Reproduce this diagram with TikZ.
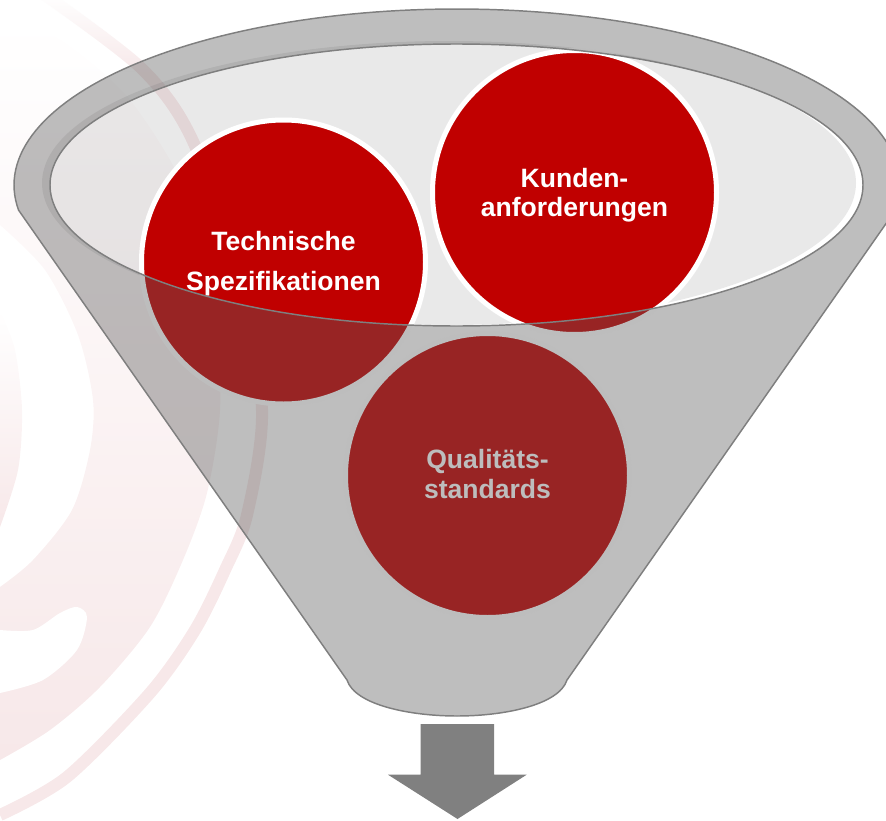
\documentclass[tikz,border=0pt]{standalone}
\usepackage{fontspec}
\usetikzlibrary{fadings}
\setmainfont{Liberation Sans}
\definecolor{wm}{HTML}{F7E8E9}
\definecolor{circred}{HTML}{C00000}
\definecolor{veil}{HTML}{5C5C5C}
\definecolor{rimline}{HTML}{7F7F7F}
\definecolor{arrowgray}{HTML}{808080}
% two centred lines whose baselines lie at given distances above the node centre
\newcommand{\twolines}[4]{\makebox[0pt]{\raisebox{#1pt}[0pt][0pt]{#2}}\makebox[0pt]{\raisebox{#3pt}[0pt][0pt]{#4}}}
\tikzset{
  ball/.style={circle,draw=white,line width=3.75pt,fill=circred,minimum size=213pt,inner sep=0pt,outer sep=0pt,
    text=white,font=\fontsize{19.9pt}{24pt}\selectfont\bfseries},
  funnelbody/.style={fill=veil,fill opacity=0.4,even odd rule},
  funneledge/.style={draw=rimline,line width=1.1pt},
  bowl/.style={fill=veil,fill opacity=0.135},
  wmshade/.style={top color=white,middle color=wm,bottom color=wm},
}
\begin{document}
\begin{tikzpicture}[x=0.75pt,y=-0.75pt]
\useasboundingbox (0,0) rectangle (886,821);
\clip (0,0) rectangle (886,821);
% watermark
\shade[wmshade] plot[smooth] coordinates {(0,20) (60,40) (130,100) (190,200) (216,320) (220,410) (207,493) (183,560) (150,627) (100,687) (50,730) (0,760)}
  -- plot[smooth] coordinates {(0,587) (33,560) (72,510) (90,450) (93,400) (78,335) (45,270) (0,225)} -- cycle;
\fill[white] plot[smooth] coordinates {(0,630) (33,630) (60,613) (77,607) (87,617) (77,650) (43,680) (0,693)} -- cycle;
\shade[top color=white,bottom color=wm] plot[smooth] coordinates {(0,310) (15,350) (22,410) (18,470) (0,527)} -- cycle;
\draw[wm,line width=9pt] plot[smooth] coordinates {(45,-5) (140,67) (190,135) (240,270) (262,410) (247,515) (225,570) (195,630) (150,693) (67,777) (0,815)};
\fill[white,path fading=south] (-5,-5) rectangle (150,75);
% bowl interior
\fill[bowl] (449,183) ellipse [x radius=305.25pt,y radius=106.5pt];
% balls
\node[ball] (tech) at (283.5,262) {\twolines{9}{Technische}{-21}{Spezifikationen}};
\node[ball] (kund) at (574.5,192.5) {\twolines{4.1}{Kunden-}{-18}{anforderungen}};
\node[ball] (qual) at (487.5,475.5) {\twolines{4.9}{Qualitäts-}{-16.9}{standards}};
% funnel on top
\path[funnelbody,funneledge]
  plot[domain=188.2:-8.2,samples=120] ({457+443*cos(\x)},{185-176*sin(\x)})
  -- (567,680) .. controls (559,705) and (504,716) .. (457,716)
  .. controls (410,716) and (355,705) .. (347,680) -- cycle
  (456.5,185) ellipse [x radius=304.875pt,y radius=105.75pt];
% outlet arrow
\fill[arrowgray] (420.7,724) -- (494,724) -- (494,774.7) -- (526.7,774.7) -- (457.5,819) -- (388,774.7) -- (420.7,774.7) -- cycle;
\end{tikzpicture}
\end{document}
